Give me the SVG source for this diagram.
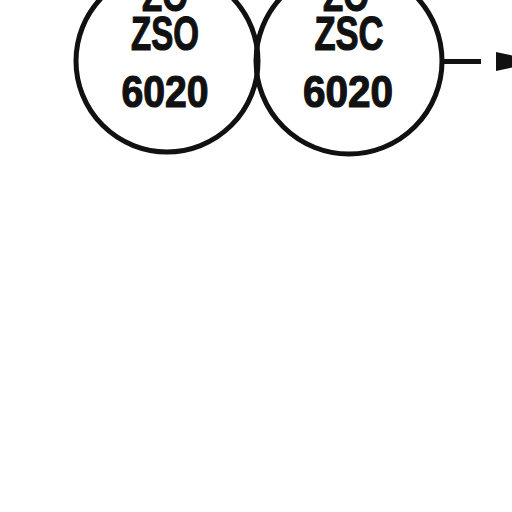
<svg xmlns="http://www.w3.org/2000/svg" width="512" height="512" viewBox="0 0 512 512">
<style>
.c{fill:none;stroke:#111;stroke-width:5}
.t{font-family:"Liberation Sans",Arial,sans-serif;font-weight:bold;fill:#111;stroke:#111;stroke-width:1.2;text-anchor:middle}
</style>
<rect width="512" height="512" fill="#fff"/>
<g id="node-zso">
<circle class="c" cx="167" cy="61" r="91"/>
<text class="t" font-size="46" transform="translate(165,11) scale(0.72,1)">ZO</text>
<text class="t" font-size="48" transform="translate(165,50) scale(0.69,1)">ZSO</text>
<text class="t" font-size="45" transform="translate(165,107) scale(0.87,1)">6020</text>
</g>
<g id="node-zsc">
<circle class="c" cx="349" cy="61" r="93"/>
<text class="t" font-size="46" transform="translate(346,11) scale(0.72,1)">ZO</text>
<text class="t" font-size="48" transform="translate(349,50) scale(0.72,1)">ZSC</text>
<text class="t" font-size="45" transform="translate(348,107) scale(0.9,1)">6020</text>
</g>
<g id="connectors">
<line x1="442" y1="61.5" x2="481" y2="61.5" stroke="#111" stroke-width="5"/>
<path d="M496,52 L540,61.5 L496,71 Z" fill="#111"/>
</g>
</svg>
